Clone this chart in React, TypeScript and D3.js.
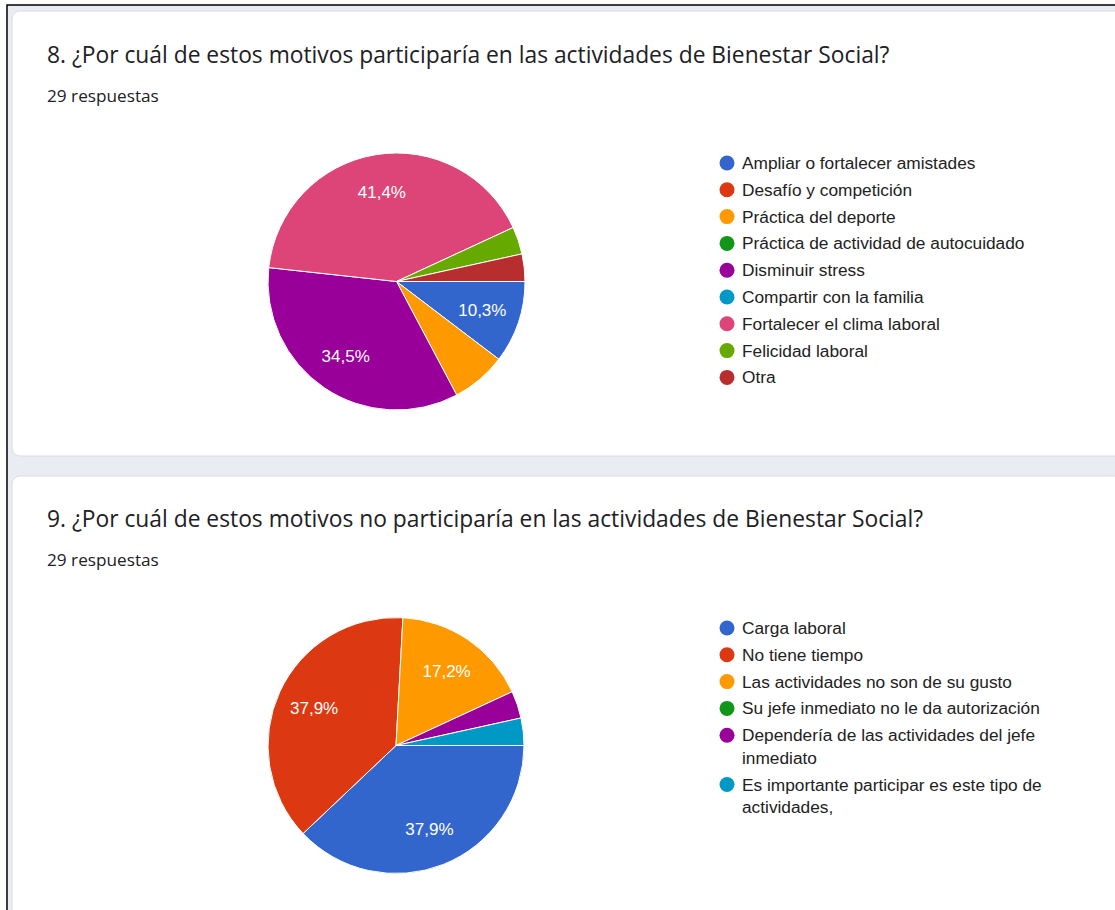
import React from "react";
import * as d3 from "d3";

const colors = ["#3366cc", "#dc3912", "#ff9900", "#109618", "#990099", "#0099c6", "#dd4477", "#66aa00", "#b82e2e"];

const q1Title = "8. ¿Por cuál de estos motivos participaría en las actividades de Bienestar Social?";
const q1Labels = [
  "Ampliar o fortalecer amistades",
  "Desafío y competición",
  "Práctica del deporte",
  "Práctica de actividad de autocuidado",
  "Disminuir stress",
  "Compartir con la familia",
  "Fortalecer el clima laboral",
  "Felicidad laboral",
  "Otra",
];
const q1Values = [3, 0, 2, 0, 10, 0, 12, 1, 1];

const q2Title = "9. ¿Por cuál de estos motivos no participaría en las actividades de Bienestar Social?";
const q2Labels = [
  ["Carga laboral"],
  ["No tiene tiempo"],
  ["Las actividades no son de su gusto"],
  ["Su jefe inmediato no le da autorización"],
  ["Dependería de las actividades del jefe", "inmediato"],
  ["Es importante participar es este tipo de", "actividades,"],
];
const q2Values = [11, 11, 5, 0, 1, 1];
const responses = "29 respuestas";

const W = 1115;
const H = 910;

function Pie({ values, cx, cy, r }: { values: number[]; cx: number; cy: number; r: number }) {
  const total = d3.sum(values);
  const pie = d3.pie<number>().sort(null).value((d) => d).startAngle(Math.PI / 2).endAngle(Math.PI / 2 + 2 * Math.PI);
  const arcs = pie(values);
  const arc = d3.arc<d3.PieArcDatum<number>>().innerRadius(0).outerRadius(r);
  const labelArc = d3.arc<d3.PieArcDatum<number>>().innerRadius(r * 0.705).outerRadius(r * 0.705);
  const fmt = (v: number) => (Math.round((v / total) * 1000) / 10).toFixed(1).replace(".", ",") + "%";
  return (
    <g transform={`translate(${cx},${cy})`}>
      {arcs.map((a, i) =>
        a.value > 0 ? (
          <path key={i} d={arc(a) || ""} fill={colors[i]} stroke="#fff" strokeWidth={1} />
        ) : null
      )}
      {arcs.map((a, i) => {
        if (a.value / total < 0.08) return null;
        const [x, y] = labelArc.centroid(a);
        return (
          <text key={"t" + i} x={x} y={y} dy="0.35em" textAnchor="middle" fill="#fff"
            fontFamily="'Liberation Sans', Arial, sans-serif" fontSize={17}>
            {fmt(a.value)}
          </text>
        );
      })}
    </g>
  );
}

function Legend({ items, x, y, step, lineH }: { items: string[][]; x: number; y: number; step: number; lineH: number }) {
  let cy = y;
  return (
    <g>
      {items.map((lines, i) => {
        const yy = cy;
        cy += step + (lines.length - 1) * lineH;
        return (
          <g key={i}>
            <circle cx={x} cy={yy} r={7.5} fill={colors[i]} />
            {lines.map((l, j) => (
              <text key={j} x={x + 15} y={yy + j * lineH} dy="0.35em" fill="#222"
                fontFamily="'Liberation Sans', Arial, sans-serif" fontSize={17.3}>
                {l}
              </text>
            ))}
          </g>
        );
      })}
    </g>
  );
}

export default function App() {
  return (
    <div style={{ position: "absolute", left: 0, top: 0, width: W, height: H, overflow: "hidden", background: "#fff" }}>
      <svg width={W} height={H} style={{ display: "block" }}>
        <rect x={7} y={5} width={W} height={H} fill="#e9ecf3" stroke="#000" strokeWidth={1.5} />
        <rect x={12} y={11} width={W + 20} height={445} rx={8} fill="#fff" stroke="#dadce0" strokeWidth={1} />
        <rect x={12} y={476} width={W + 20} height={H} rx={8} fill="#fff" stroke="#dadce0" strokeWidth={1} />

        <text x={47} y={63} fill="#202124" fontFamily="'Open Sans', Roboto, sans-serif" fontSize={22.8}>{q1Title}</text>
        <text x={47} y={102} fill="#202124" fontFamily="'Open Sans', Roboto, sans-serif" fontSize={17.2}>{responses}</text>
        <Pie values={q1Values} cx={396.5} cy={281.5} r={128.5} />
        <Legend items={q1Labels.map((l) => [l])} x={727} y={163} step={26.8} lineH={22.5} />

        <text x={47} y={527} fill="#202124" fontFamily="'Open Sans', Roboto, sans-serif" fontSize={22.8}>{q2Title}</text>
        <text x={47} y={566} fill="#202124" fontFamily="'Open Sans', Roboto, sans-serif" fontSize={17.2}>{responses}</text>
        <Pie values={q2Values} cx={396} cy={745.5} r={128} />
        <Legend items={q2Labels} x={727} y={628} step={26.8} lineH={22.5} />
      </svg>
    </div>
  );
}
